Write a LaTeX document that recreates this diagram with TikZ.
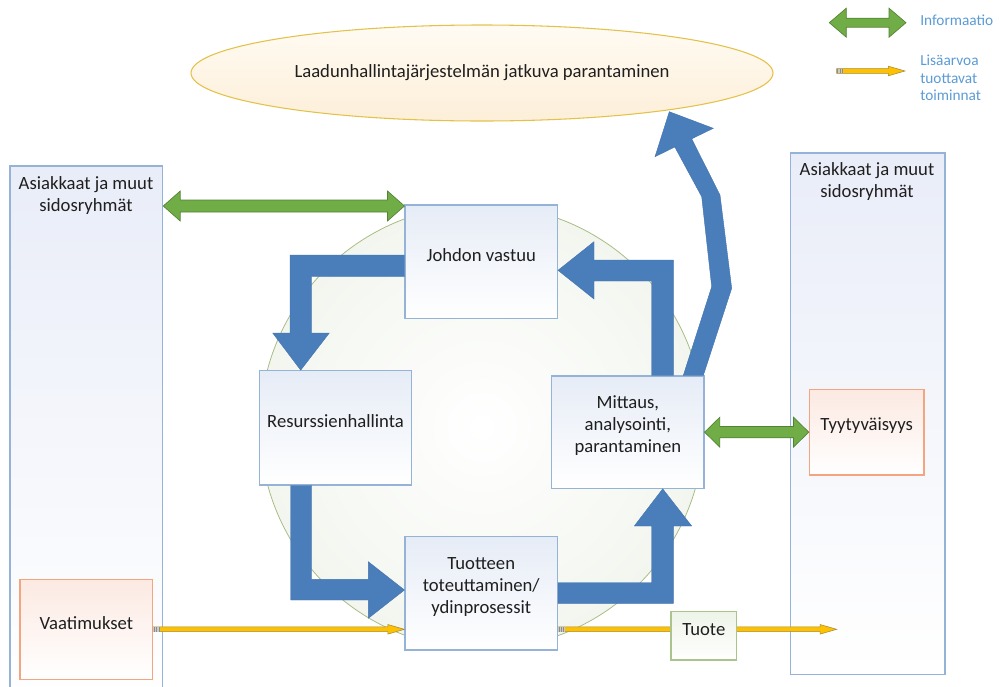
\documentclass[tikz,border=0pt]{standalone}
\usepackage{fontspec}
\setmainfont{Carlito}
\usetikzlibrary{fit,calc,shapes.geometric}
\definecolor{bxline}{HTML}{95B3D7}
\definecolor{bxtop}{HTML}{E6ECF6}
\definecolor{bigtop}{HTML}{E9EDF8}
\definecolor{orline}{HTML}{F2A57E}
\definecolor{ortop}{HTML}{FCE9E2}
\definecolor{grline}{HTML}{A9C48C}
\definecolor{grtop}{HTML}{EEF4E8}
\definecolor{blk}{HTML}{4A7EBB}
\definecolor{blkline}{HTML}{4272AC}
\definecolor{grn}{HTML}{70AD47}
\definecolor{grndark}{HTML}{548235}
\definecolor{yel}{HTML}{FFC000}
\definecolor{yeldark}{HTML}{A08A3C}
\definecolor{tailgray}{HTML}{8C8C8C}
\definecolor{circline}{HTML}{A8BD85}
\definecolor{circout}{HTML}{F3F6EF}
\definecolor{elline}{HTML}{E3C24A}
\definecolor{eltop}{HTML}{FFFBF3}
\definecolor{elbot}{HTML}{FDEFD9}
\definecolor{legtxt}{HTML}{5B9BD5}
\definecolor{txt}{HTML}{1F1F1F}
\tikzset{
  smallbox/.style={draw=bxline, line width=0.8pt, top color=bxtop, bottom color=white, inner sep=0pt, align=center, text=txt},
  bigbox/.style={draw=bxline, line width=0.8pt, top color=bigtop, bottom color=white, inner sep=0pt},
  orbox/.style={draw=orline, line width=0.8pt, top color=ortop, bottom color=white, inner sep=0pt, align=center, text=txt},
  grbox/.style={draw=grline, line width=0.8pt, top color=grtop, bottom color=white, inner sep=0pt, align=center, text=txt},
  blkarrow/.style={fill=blk, draw=blkline, line width=0.3pt, line join=miter},
  greenarr/.style={fill=grn, draw=grndark, line width=0.5pt},
  yarr/.style={fill=yel, draw=yeldark, line width=0.4pt},
  lbl/.style={align=center, text=txt, inner sep=0pt},
  legend/.style={align=left, text=legtxt, inner sep=0pt, anchor=west, font=\fontsize{11.5}{13.1}\selectfont}
}
\newcommand\dblarrow[5]{%
  \path[greenarr] let \p1=#1, \p2=#2 in
   (\x1,\y1) -- (\x1+#5,\y1+#4) -- (\x1+#5,\y1+#3) -- (\x2-#5,\y1+#3) -- (\x2-#5,\y1+#4)
   -- (\x2,\y1) -- (\x2-#5,\y1-#4) -- (\x2-#5,\y1-#3) -- (\x1+#5,\y1-#3) -- (\x1+#5,\y1-#4) -- cycle;}
\newcommand\yarrow[2]{%
  \path[yarr] let \p1=#1, \p2=#2 in
   (\x1,\y1-1.8pt) -- (\x2-12.5pt,\y1-1.8pt) -- (\x2-12.5pt,\y1-3.6pt) -- (\x2,\y1)
   -- (\x2-12.5pt,\y1+3.6pt) -- (\x2-12.5pt,\y1+1.8pt) -- (\x1,\y1+1.8pt) -- cycle;
  \path[fill=tailgray!45] let \p1=#1 in (\x1,\y1-1.8pt) rectangle (\x1+5pt,\y1+1.8pt);
  \path[draw=tailgray, line width=0.5pt] let \p1=#1 in
   (\x1+0.8pt,\y1-1.8pt) -- (\x1+0.8pt,\y1+1.8pt)
   (\x1+2.5pt,\y1-1.8pt) -- (\x1+2.5pt,\y1+1.8pt)
   (\x1+4.2pt,\y1-1.8pt) -- (\x1+4.2pt,\y1+1.8pt);}
\begin{document}
\begin{tikzpicture}[x=0.75pt, y=-0.75pt, font=\fontsize{14}{16.5}\selectfont]
\useasboundingbox (0,0) rectangle (1000,686);

% big stakeholder rectangles
\node[bigbox, fit={(10,166) (162.7,700)}] (L) {};
\node[bigbox, fit={(790.7,153) (945,674.3)}] (Rb) {};
\node[lbl] (Ltxt) at (86,196) {Asiakkaat ja muut\\sidosryhmät};
\node[lbl] (Rtxt) at (867,182) {Asiakkaat ja muut\\sidosryhmät};

% ellipse
\node[ellipse, draw=elline, line width=0.8pt, top color=eltop, bottom color=elbot,
      minimum width={582*0.75pt}, minimum height={96*0.75pt}, inner sep=0pt, text=txt] (E) at (482,73)
      {Laadunhallintajärjestelmän jatkuva parantaminen};

% circle
\node[circle, draw=circline, line width=0.6pt, inner color=white, outer color=circout,
      minimum size={444*0.75pt}, inner sep=0pt] (C) at (482,427) {};

% process boxes
\node[smallbox, fit={(405,205) (557.5,318.3)}] (J) {Johdon vastuu};
\node[smallbox, fit={(259.3,370.7) (411.7,485)}] (R) {Resurssienhallinta};
\node[smallbox, fit={(551.7,376) (704,488.3)}] (M) {Mittaus,\\analysointi,\\parantaminen};
\node[smallbox, fit={(405,536.7) (557.5,650)}] (T) {Tuotteen\\toteuttaminen/\\ydinprosessit};
\node[orbox, fit={(809.3,389.3) (924,475)}] (Ty) {Tyytyväisyys};
\node[orbox, fit={(20,579.3) (152.7,679.3)}] (V) {Vaatimukset};

% blue block arrows
% Johdon vastuu -> Resurssienhallinta
\path[blkarrow] (J.west |- 0,255) -- (290,255) -- (290,333) -- (272.7,333) -- (R.north -| 300.7,0)
  -- (329.3,333) -- (311.7,333) -- (311.7,276.7) -- (J.west |- 0,276.7) -- cycle;
% Resurssienhallinta -> Tuotteen toteuttaminen
\path[blkarrow] (R.south -| 290.7,0) -- (290.7,600) -- (368.3,600) -- (368.3,618.3) -- (T.west |- 0,590)
  -- (368.3,561.7) -- (368.3,579.3) -- (311.7,579.3) -- (R.south -| 311.7,0) -- cycle;
% Tuotteen toteuttaminen -> Mittaus
\path[blkarrow] (T.east |- 0,582.7) -- (T.east |- 0,603.3) -- (673.3,603.3) -- (673.3,526) -- (691.7,526)
  -- (M.south -| 662.7,0) -- (634.3,526) -- (651.7,526) -- (651.7,582.7) -- cycle;
% Mittaus -> Johdon vastuu
\path[blkarrow] (M.north -| 651.7,0) -- (651.7,281) -- (594,281) -- (594,299) -- (J.east |- 0,270.3)
  -- (594,241.7) -- (594,260) -- (673.3,260) -- (M.north -| 673.3,0) -- cycle;
% Mittaus -> jatkuva parantaminen
\path[blkarrow] (669.3,111.7) -- (713.3,128.3) -- (691.7,138.8) -- (720,195) -- (731.7,288.3)
  -- (M.north -| 703.3,0) -- (M.north -| 683.3,0) -- (711.7,286.7) -- (701.7,196.7) -- (674.8,147)
  -- (655,156.7) -- cycle;

% green information arrows
\dblarrow{(L.east |- 0,206)}{(J.west |- 0,206)}{4.5pt}{11.25pt}{12.75pt}
\dblarrow{(M.east)}{(Ty.west)}{4.2pt}{11.25pt}{11.5pt}

% yellow value-adding arrows
\yarrow{(V.east)}{(V.east -| T.west)}
\coordinate (pend) at (836.7,630.7);
\yarrow{(T.east |- V.east)}{(pend |- V.east)}
\node[grbox, fit={(671,611.7) (736.7,660)}] (Tu) {Tuote};

% legend
\coordinate (lg1) at (829.3,22.7);
\coordinate (lg2) at (906,22.7);
\dblarrow{(lg1)}{(lg2)}{3.4pt}{10.9pt}{12.75pt}
\node[legend] (Linfo) at (920,20) {Informaatio};
\coordinate (ly1) at (836.7,71);
\coordinate (ly2) at (905,71);
\yarrow{(ly1)}{(ly2)}
\node[legend] (Llisa) at (920,78) {Lisäarvoa\\tuottavat\\toiminnat};
\end{tikzpicture}
\end{document}
